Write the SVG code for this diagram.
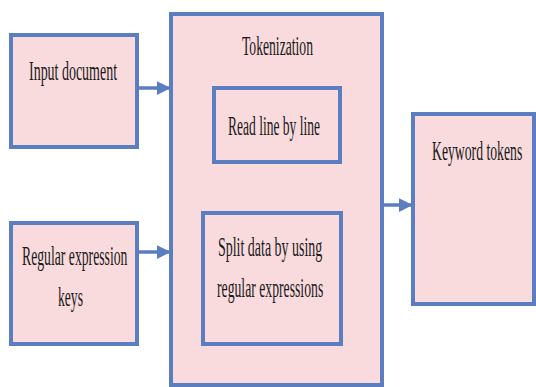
<svg xmlns="http://www.w3.org/2000/svg" width="536" height="387" viewBox="0 0 536 387">
<style>
.box{fill:#f9dadd;stroke:#5b7ec0;stroke-width:4}
.t{font-family:"Liberation Serif","Times New Roman",serif;font-size:28px;fill:#1a1a1a}
.c{stroke:#5b7ec0;stroke-width:3.5;fill:none}
</style>
<defs>
<marker id="ah" markerWidth="4" markerHeight="4" refX="3.5" refY="2" orient="auto" markerUnits="strokeWidth">
<path d="M0,0 L4,2 L0,4 z" fill="#5b7ec0"/>
</marker>
</defs>
<rect width="536" height="387" fill="#ffffff"/>
<g id="tokenization">
<rect class="box" x="171" y="14" width="211" height="371"/>
<text class="t" transform="translate(242 55) scale(0.487 1)">Tokenization</text>
</g>
<g id="input-document">
<rect class="box" x="11" y="35" width="126" height="112"/>
<text class="t" transform="translate(29 80) scale(0.499 1)">Input document</text>
</g>
<g id="regular-expression-keys">
<rect class="box" x="11" y="223" width="126" height="121"/>
<text class="t" transform="translate(22 265) scale(0.49 1)">Regular expression</text>
<text class="t" transform="translate(58 306) scale(0.487 1)">keys</text>
</g>
<g id="read-line">
<rect class="box" x="214" y="88" width="126" height="74"/>
<text class="t" transform="translate(228 135) scale(0.483 1)">Read line by line</text>
</g>
<g id="split-data">
<rect class="box" x="203" y="213" width="138" height="131"/>
<text class="t" transform="translate(218 256) scale(0.499 1)">Split data by using</text>
<text class="t" transform="translate(217 297) scale(0.49 1)">regular expressions</text>
</g>
<g id="keyword-tokens">
<rect class="box" x="413" y="114" width="121" height="190"/>
<text class="t" transform="translate(432 160) scale(0.49 1)">Keyword tokens</text>
</g>
<g id="connectors">
<line class="c" x1="139" y1="88" x2="169" y2="88" marker-end="url(#ah)"/>
<line class="c" x1="139" y1="252" x2="169" y2="252" marker-end="url(#ah)"/>
<line class="c" x1="384" y1="205" x2="411" y2="205" marker-end="url(#ah)"/>
</g>
</svg>
